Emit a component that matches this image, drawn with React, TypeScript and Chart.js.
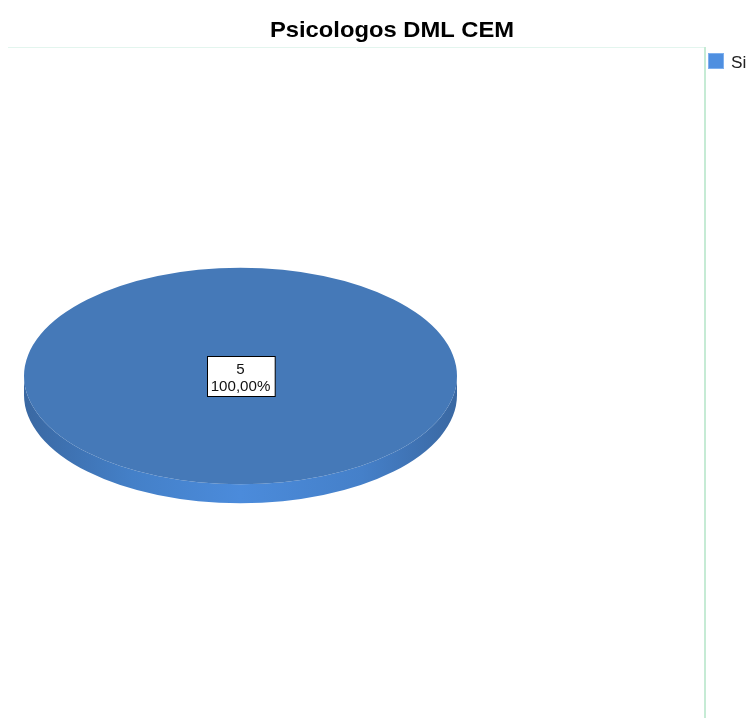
import React, { useEffect, useRef } from "react";
import { Chart, registerables } from "chart.js";

Chart.register(...registerables);

const TITLE = "Psicologos DML CEM";
const categories = ["Si"];
const counts = [5];
const sliceColors = ["#4579b8"];
const legendColors = ["#4f8fe0"];

const K = 0.5; // vertical squash of the 3D pie
const DEPTH = 19;
const STRETCH = 1.08; // horizontal text stretch seen in the reference

function stretchedText(ctx: CanvasRenderingContext2D, text: string, x: number, y: number) {
  ctx.save();
  ctx.translate(x, y);
  ctx.scale(STRETCH, 1);
  ctx.fillText(text, 0, 0);
  ctx.restore();
}

const pie3d = {
  id: "pie3d",
  beforeDatasetsDraw(chart: any) {
    const ctx = chart.ctx as CanvasRenderingContext2D;
    const arc = chart.getDatasetMeta(0).data[0] as any;
    if (!arc) return;
    const { x, y, outerRadius: r } = arc;
    const ry = r * K;
    ctx.save();
    const g = ctx.createLinearGradient(x - r, 0, x + r, 0);
    g.addColorStop(0, "#3a68a2");
    g.addColorStop(0.25, "#4480c8");
    g.addColorStop(0.5, "#4b8bdb");
    g.addColorStop(0.78, "#4580c9");
    g.addColorStop(1, "#3a68a2");
    ctx.fillStyle = g;
    ctx.beginPath();
    ctx.moveTo(x - r, y);
    ctx.lineTo(x - r, y + DEPTH);
    ctx.ellipse(x, y + DEPTH, r, ry, 0, Math.PI, 0, true);
    ctx.lineTo(x + r, y);
    ctx.ellipse(x, y, r, ry, 0, 0, Math.PI, false);
    ctx.closePath();
    ctx.fill();
    ctx.restore();
    ctx.save();
    ctx.translate(0, y);
    ctx.scale(1, K);
    ctx.translate(0, -y);
  },
  afterDatasetsDraw(chart: any) {
    const ctx = chart.ctx as CanvasRenderingContext2D;
    ctx.restore();
    const meta = chart.getDatasetMeta(0);
    const data = chart.data.datasets[0].data as number[];
    const total = data.reduce((a: number, b: number) => a + b, 0);
    meta.data.forEach((arc: any, i: number) => {
      const mid = (arc.startAngle + arc.endAngle) / 2;
      const full = arc.endAngle - arc.startAngle >= Math.PI * 2 - 1e-6;
      const rr = full ? 0 : arc.outerRadius * 0.6;
      const cx = arc.x + Math.cos(mid) * rr;
      const cy = arc.y + Math.sin(mid) * rr * K;
      const pct = ((data[i] / total) * 100).toFixed(2).replace(".", ",") + "%";
      const l1 = String(data[i]);
      ctx.save();
      ctx.font = "14px 'Liberation Sans', Arial, sans-serif";
      const w = Math.max(ctx.measureText(l1).width, ctx.measureText(pct).width) * STRETCH + 8;
      const h = 40;
      const bx = Math.round(cx - w / 2) + 0.5;
      const by = Math.round(cy - h / 2) + 0.5;
      ctx.fillStyle = "#ffffff";
      ctx.fillRect(bx, by, w, h);
      ctx.strokeStyle = "#000000";
      ctx.lineWidth = 1;
      ctx.strokeRect(bx, by, w, h);
      ctx.fillStyle = "#111111";
      ctx.textAlign = "center";
      ctx.textBaseline = "alphabetic";
      stretchedText(ctx, l1, cx, by + 17);
      stretchedText(ctx, pct, cx, by + 34);
      ctx.restore();
    });
  },
  afterDraw(chart: any) {
    const ctx = chart.ctx as CanvasRenderingContext2D;
    ctx.save();
    ctx.strokeStyle = "#e3f5ee";
    ctx.lineWidth = 1;
    ctx.beginPath();
    ctx.moveTo(8, 47.5);
    ctx.lineTo(705, 47.5);
    ctx.stroke();
    ctx.strokeStyle = "#c6ebd5";
    ctx.lineWidth = 2;
    ctx.beginPath();
    ctx.moveTo(705, 47);
    ctx.lineTo(705, 718);
    ctx.stroke();
    ctx.fillStyle = "#000000";
    ctx.font = "bold 22px 'Liberation Sans', Arial, sans-serif";
    ctx.textAlign = "center";
    ctx.textBaseline = "alphabetic";
    stretchedText(ctx, TITLE, 392, 37);
    const labels = chart.data.labels as string[];
    labels.forEach((lab, i) => {
      const ly = 53 + i * 22;
      ctx.fillStyle = legendColors[i];
      ctx.fillRect(708, ly, 16, 16);
      ctx.strokeStyle = "#7fb0ee";
      ctx.lineWidth = 1;
      ctx.strokeRect(708.5, ly + 0.5, 15, 15);
      ctx.fillStyle = "#222222";
      ctx.font = "16px 'Liberation Sans', Arial, sans-serif";
      ctx.textAlign = "left";
      stretchedText(ctx, lab, 731, ly + 15);
    });
    ctx.restore();
  },
};

export default function App() {
  const ref = useRef<HTMLCanvasElement | null>(null);
  useEffect(() => {
    if (!ref.current) return;
    const chart = new Chart(ref.current, {
      type: "pie",
      data: {
        labels: categories,
        datasets: [
          {
            data: counts,
            backgroundColor: sliceColors,
            borderWidth: 0,
            clip: false as any,
          },
        ],
      },
      options: {
        responsive: false,
        animation: false,
        devicePixelRatio: 1,
        layout: { padding: { left: 24, right: 295, top: 159.5, bottom: 125.5 } },
        plugins: {
          legend: { display: false },
          title: { display: false },
          tooltip: { enabled: false },
        },
      },
      plugins: [pie3d],
    });
    return () => chart.destroy();
  }, []);
  return (
    <div style={{ position: "absolute", left: 0, top: 0, width: 752, height: 718, background: "#fff" }}>
      <canvas ref={ref} width={752} height={718} style={{ width: 752, height: 718, display: "block" }} />
    </div>
  );
}
